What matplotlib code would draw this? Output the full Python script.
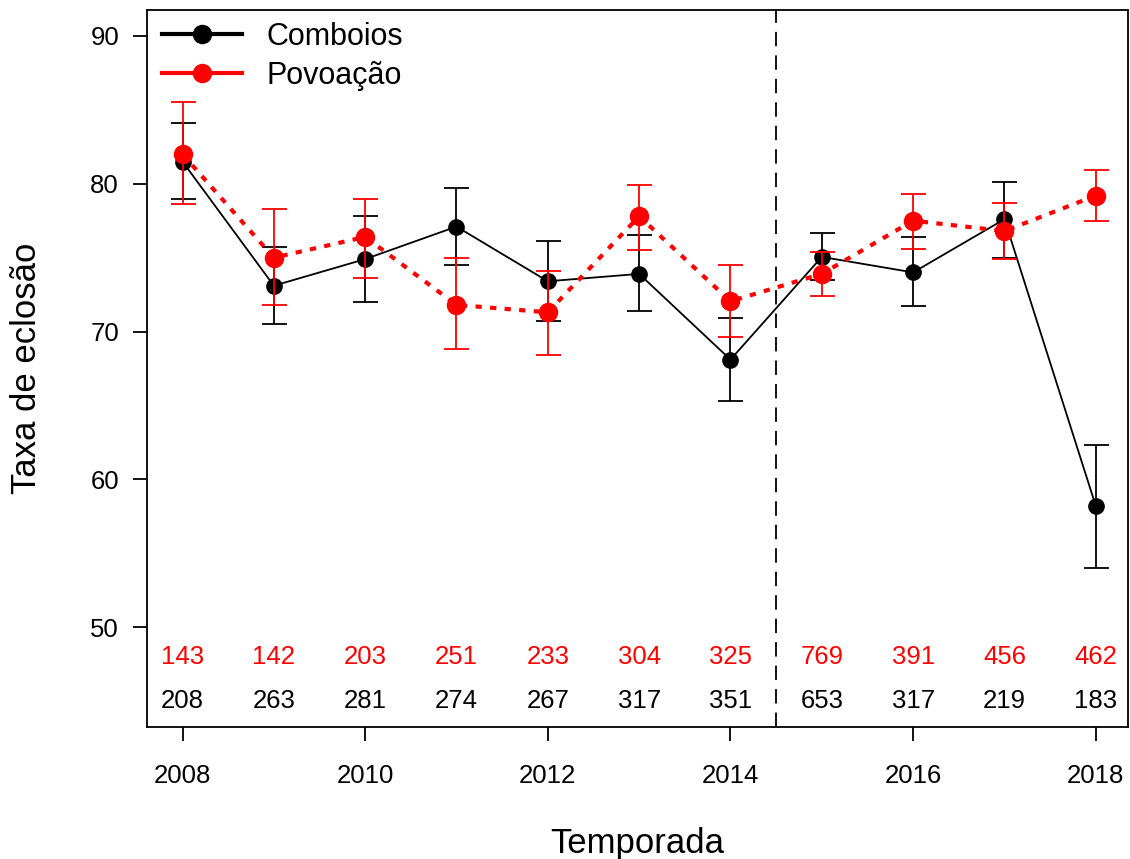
import matplotlib
matplotlib.use("Agg")
import matplotlib.pyplot as plt
from matplotlib.lines import Line2D

plt.rcParams['font.family'] = ['Liberation Sans', 'DejaVu Sans']

years = list(range(2008, 2019))
comb = [81.5, 73.1, 74.9, 77.1, 73.4, 73.9, 68.1, 75.05, 74.0, 77.6, 58.2]
comb_hi = [84.1, 75.7, 77.8, 79.7, 76.1, 76.5, 70.9, 76.7, 76.4, 80.15, 62.3]
comb_lo = [79.0, 70.5, 72.0, 74.5, 70.7, 71.4, 65.3, 73.5, 71.7, 75.0, 54.0]
povo = [82.0, 75.0, 76.4, 71.8, 71.3, 77.8, 72.05, 73.9, 77.5, 76.8, 79.2]
povo_hi = [85.5, 78.3, 79.0, 74.95, 74.1, 79.9, 74.5, 75.4, 79.3, 78.7, 80.9]
povo_lo = [78.6, 71.8, 73.6, 68.8, 68.4, 75.5, 69.6, 72.4, 75.6, 74.9, 77.45]
n_povo = [143, 142, 203, 251, 233, 304, 325, 769, 391, 456, 462]
n_comb = [208, 263, 281, 274, 267, 317, 351, 653, 317, 219, 183]

fig = plt.figure(figsize=(11.3, 8.59), dpi=100)
ax = fig.add_axes([0.130, 0.1537, 0.868, 0.8347])

def err(v, lo, hi):
    return [[a - b for a, b in zip(v, lo)], [b - a for a, b in zip(v, hi)]]

ax.errorbar(years, comb, yerr=err(comb, comb_lo, comb_hi), color='black', lw=1.3,
            marker='o', ms=11, capsize=9, elinewidth=1.3, capthick=1.3, zorder=3)
ax.errorbar(years, povo, yerr=err(povo, povo_lo, povo_hi), color='red', lw=3, ls=(0, (1.5, 2)),
            marker='o', ms=13, capsize=9, elinewidth=1.3, capthick=1.3, zorder=4)
ax.axvline(2014.5, color='black', lw=1.3, ls=(0, (8, 5)))

for x, a, b in zip(years, n_povo, n_comb):
    ax.text(x, 47.97, str(a), color='red', ha='center', va='center', fontsize=18.5)
    ax.text(x, 45.0, str(b), color='black', ha='center', va='center', fontsize=18.5)

ax.set_xlim(2007.61, 2018.35)
ax.set_ylim(43.24, 91.76)
ax.set_yticks([50, 60, 70, 80, 90])
ax.set_xticks([2008, 2010, 2012, 2014, 2016, 2018])
ax.tick_params(labelsize=18.5, length=10, width=1.3)
ax.tick_params(axis='x', pad=17)
ax.tick_params(axis='y', pad=10)
for s in ax.spines.values():
    s.set_linewidth(1.3)
ax.set_xlabel('Temporada', fontsize=25, labelpad=28)
ax.set_ylabel('Taxa de eclosão', fontsize=25, labelpad=34)

h = [Line2D([], [], color='black', lw=3, marker='o', ms=13),
     Line2D([], [], color='red', lw=3, marker='o', ms=13)]
ax.legend(h, ['Comboios', 'Povoação'], loc='upper left', frameon=False, fontsize=22,
          handlelength=2.6, borderaxespad=0.1, labelspacing=0.3, handletextpad=0.8,
          bbox_to_anchor=(0.0, 1.005))

fig.savefig('out.png', dpi=100)
